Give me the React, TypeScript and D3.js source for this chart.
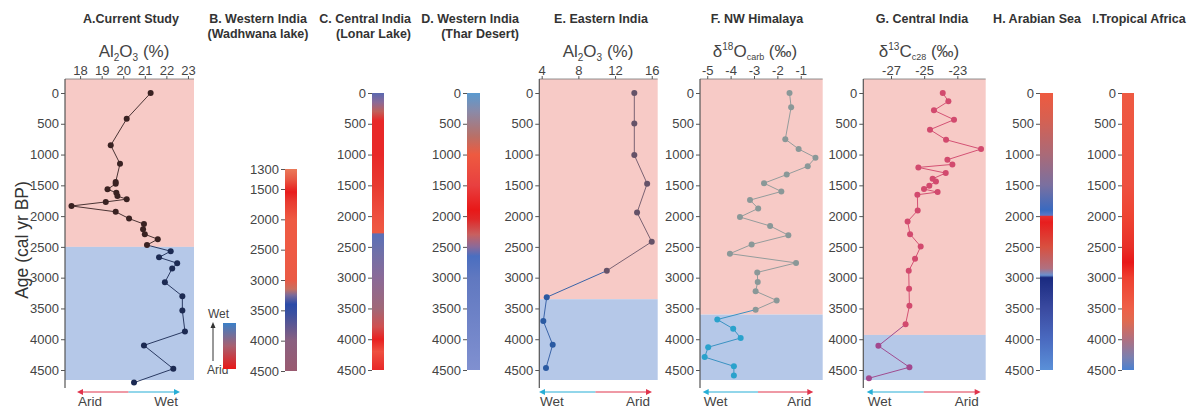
import React, { useEffect, useRef } from "react";
import * as d3 from "d3";

const FONT = "'Liberation Sans', Arial, Helvetica, sans-serif";
const DRY_BG = "#f7cac6";
const WET_BG = "#b5c8e8";
const RED = "#e0344c";
const CYAN = "#27aed6";

const ageTicks = [0, 500, 1000, 1500, 2000, 2500, 3000, 3500, 4000, 4500];
const bTicks = [1300, 1500, 2000, 2500, 3000, 3500, 4000, 4500];

// A. Current study, Al2O3 (%)
const aAges = [0, 420, 850, 1150, 1445, 1475, 1565, 1620, 1675, 1725, 1770, 1835, 1930, 2040, 2130, 2215, 2295, 2375, 2470, 2570, 2670, 2765, 2850, 3075, 3300, 3535, 3875, 4100, 4480, 4705];
const aAl2O3 = [21.27, 20.16, 19.42, 19.85, 19.65, 19.65, 19.27, 19.68, 19.73, 20.16, 19.19, 17.6, 19.65, 20.27, 20.96, 20.92, 21.0, 21.6, 21.1, 22.2, 21.66, 22.5, 22.27, 21.93, 22.74, 22.74, 22.86, 20.96, 22.32, 20.5];
const aTicks = [18, 19, 20, 21, 22, 23];

// E. Eastern India, Al2O3 (%)
const eAges = [0, 496, 1009, 1473, 1942, 2417, 2887, 3318, 3706, 4090, 4468];
const eAl2O3 = [14.1, 14.1, 14.1, 15.5, 14.4, 16.0, 11.1, 4.55, 4.18, 5.2, 4.47];
const eTicks = [4, 8, 12, 16];

// F. NW Himalaya, d18O carb
const fAges = [0, 230, 750, 910, 1050, 1190, 1325, 1465, 1600, 1740, 1875, 2015, 2160, 2310, 2460, 2610, 2760, 2915, 3070, 3220, 3370, 3520, 3680, 3830, 3980, 4130, 4290, 4440, 4590];
const fD18O = [-1.48, -1.41, -1.66, -1.09, -0.37, -0.7, -1.6, -2.57, -1.83, -3.17, -2.82, -3.6, -2.31, -1.53, -3.1, -4.03, -1.2, -2.86, -2.84, -2.93, -2.03, -2.93, -4.57, -3.89, -3.57, -4.96, -5.11, -3.86, -3.86];
const fTicks = [-5, -4, -3, -2, -1];

// G. Central India, d13C c28
const gAges = [0, 135, 282, 434, 596, 759, 911, 1084, 1160, 1209, 1301, 1393, 1436, 1507, 1561, 1610, 1653, 1908, 2087, 2293, 2493, 2694, 2889, 3182, 3458, 3756, 4108, 4455, 4634];
const gD13C = [-23.88, -23.54, -24.41, -23.2, -24.65, -23.68, -21.57, -23.6, -23.3, -25.35, -23.7, -24.49, -24.29, -24.69, -25.01, -24.19, -25.41, -25.39, -26.0, -25.85, -25.21, -25.55, -25.93, -25.91, -25.89, -26.12, -27.76, -25.89, -28.33];
const gTicks = [-27, -25, -23];

// colour bars (age -> colour stops)
const bAges = [1300, 1400, 1550, 1700, 2000, 2500, 3000, 3150, 3250, 3400, 3550, 4000, 4500];
const bColors = ["#ea7a5a", "#e85a45", "#e81c1c", "#e83a30", "#ee5a42", "#ee5a44", "#ea5a45", "#c87060", "#7a6a9a", "#2a4aa8", "#3a50a0", "#8a6080", "#9a5a70"];
const cAges = [0, 150, 300, 450, 1000, 1500, 2000, 2270, 2290, 2600, 3000, 3500, 3800, 4000, 4200, 4500];
const cColors = ["#5a68b0", "#8a6a98", "#c0605a", "#e82828", "#e82828", "#e83a30", "#ee5040", "#ee5a42", "#5a70b8", "#7070a8", "#8a6a98", "#a06878", "#d05050", "#e82020", "#ee5040", "#e82828"];
const dAges = [0, 300, 700, 1000, 1500, 1900, 2050, 2300, 2500, 2650, 3000, 4500];
const dColors = ["#5a9ad0", "#8a8aa8", "#b87068", "#ee5a40", "#e84040", "#e81818", "#e02828", "#c86060", "#8a6a9a", "#4a6ec0", "#6078c0", "#8090d0"];
const hAges = [0, 400, 1000, 1500, 1900, 1985, 2005, 2100, 2500, 2850, 2960, 3000, 3500, 4000, 4500];
const hColors = ["#ee5a40", "#d86050", "#aa6a78", "#7a70a0", "#3a6ac0", "#5a78c8", "#e83030", "#e81e1e", "#d85040", "#b07080", "#6a90d0", "#1a2a80", "#3a4aa0", "#4a6ac0", "#5a90d8"];
const iAges = [0, 1500, 2000, 2500, 2750, 3000, 3500, 3700, 4000, 4300, 4500];
const iColors = ["#ee5a42", "#ee5040", "#ee4432", "#e83028", "#e81818", "#ee4030", "#ee6048", "#e06a50", "#b07080", "#7a80b0", "#4a80d0"];
const legendColors = ["#3a80c8", "#a86070", "#e81818"];

const yAge = d3.scaleLinear().domain([0, 4500]).range([93, 370]);
const yB = d3.scaleLinear().domain([1300, 1500, 4500]).range([169, 189, 371]);
const PLOT_TOP = 79;
const PLOT_BOTTOM = 380;
const AXIS_BOTTOM = 388;

function Axis({ axis, transform }: { axis: any; transform?: string }) {
  const ref = useRef<SVGGElement>(null);
  useEffect(() => {
    const g = d3.select(ref.current!);
    g.selectAll("*").remove();
    g.call(axis);
    g.attr("font-family", FONT).attr("font-size", 13);
    g.select(".domain").remove();
    g.selectAll("text").attr("fill", "#444");
    g.selectAll("line").attr("stroke", "#555");
  });
  return <g ref={ref} transform={transform} />;
}

function Arrow({ x1, x2, left, y = 392 }: { x1: number; x2: number; left: "arid" | "wet"; y?: number }) {
  const xm = (x1 + x2) / 2;
  const cl = left === "arid" ? RED : CYAN;
  const cr = left === "arid" ? CYAN : RED;
  return (
    <g fontFamily={FONT} fontSize={13.5} fill="#444">
      <line x1={x1 + 2} x2={xm} y1={y} y2={y} stroke={cl} strokeWidth={1.2} />
      <line x1={xm} x2={x2 - 2} y1={y} y2={y} stroke={cr} strokeWidth={1.2} />
      <path d={`M${x1},${y} L${x1 + 6},${y - 3} L${x1 + 6},${y + 3} Z`} fill={cl} />
      <path d={`M${x2},${y} L${x2 - 6},${y - 3} L${x2 - 6},${y + 3} Z`} fill={cr} />
      <text x={x1 + 1} y={406}>{left === "arid" ? "Arid" : "Wet"}</text>
      <text x={x2 - 2} y={406} textAnchor="end">{left === "arid" ? "Wet" : "Arid"}</text>
    </g>
  );
}

type LineProps = {
  title: string;
  titleX: number;
  axisTitle: React.ReactNode;
  axisTitleX: number;
  xDomain: [number, number];
  xRange: [number, number];
  ticks: number[];
  boundary: number;
  split: number;
  ages: number[];
  values: number[];
  dry: [string, string];
  wet: [string, string];
  left: "arid" | "wet";
  arrow: [number, number];
};

function LinePanel(p: LineProps) {
  const x = d3.scaleLinear().domain(p.xDomain).range(p.xRange);
  const [x0, x1] = p.xRange;
  const yb = yAge(p.boundary);
  const pts = p.ages.map((a, i) => ({ a, v: p.values[i] }));
  const seg = d3.line<{ a: number; v: number }>().x((d) => x(d.v)).y((d) => yAge(d.a));
  return (
    <g>
      <text x={p.titleX} y={23} textAnchor="middle" fontFamily={FONT} fontWeight="bold" fontSize={12.5} fill="#333">{p.title}</text>
      <text x={p.axisTitleX} y={57} textAnchor="middle" fontFamily={FONT} fontSize={17} fill="#444">{p.axisTitle}</text>
      <rect x={x0} y={PLOT_TOP} width={x1 - x0} height={yb - PLOT_TOP} fill={DRY_BG} />
      <rect x={x0} y={yb} width={x1 - x0} height={PLOT_BOTTOM - yb} fill={WET_BG} />
      <line x1={x0} x2={x1} y1={PLOT_TOP} y2={PLOT_TOP} stroke="#777" strokeWidth={0.8} />
      <line x1={x0} x2={x0} y1={PLOT_TOP} y2={AXIS_BOTTOM} stroke="#555" strokeWidth={1.2} />
      <Axis axis={d3.axisTop(x).tickValues(p.ticks).tickSize(3).tickPadding(1).tickFormat((d: any) => String(d))} transform={`translate(0,${PLOT_TOP})`} />
      <Axis axis={d3.axisLeft(yAge).tickValues(ageTicks).tickSize(4).tickPadding(2).tickFormat((d: any) => String(d))} transform={`translate(${x0},0)`} />
      {pts.slice(1).map((d, i) => {
        const wet = d.a >= p.split;
        return <path key={i} d={seg([pts[i], d]) || ""} stroke={wet ? p.wet[1] : p.dry[1]} strokeWidth={1} fill="none" />;
      })}
      {pts.map((d, i) => (
        <circle key={i} cx={x(d.v)} cy={yAge(d.a)} r={3} fill={d.a >= p.split ? p.wet[0] : p.dry[0]} />
      ))}
      <Arrow x1={p.arrow[0]} x2={p.arrow[1]} left={p.left} />
    </g>
  );
}

type BarProps = {
  id: string;
  x: number;
  width: number;
  scale: any;
  ticks: number[];
  ages: number[];
  colors: string[];
  title: string[];
  titleX: number;
  anchor: "middle" | "end";
};

function BarPanel(p: BarProps) {
  const [a0, a1] = [p.ages[0], p.ages[p.ages.length - 1]];
  const top = p.scale(a0);
  const bottom = p.scale(a1);
  return (
    <g>
      {p.title.map((t, i) => (
        <text key={i} x={p.titleX} y={23 + i * 15} textAnchor={p.anchor} fontFamily={FONT} fontWeight="bold" fontSize={12.5} fill="#333">{t}</text>
      ))}
      <defs>
        <linearGradient id={p.id} gradientUnits="userSpaceOnUse" x1={0} x2={0} y1={top} y2={bottom}>
          {p.ages.map((a, i) => (
            <stop key={i} offset={(p.scale(a) - top) / (bottom - top)} stopColor={p.colors[i]} />
          ))}
        </linearGradient>
      </defs>
      <rect x={p.x} y={top} width={p.width} height={bottom - top} fill={`url(#${p.id})`} />
      <Axis axis={d3.axisLeft(p.scale).tickValues(p.ticks).tickSize(4).tickPadding(2).tickFormat((d: any) => String(d))} transform={`translate(${p.x},0)`} />
    </g>
  );
}

export default function App() {
  const legY = d3.scaleLinear().domain([0, 2]).range([323, 369]);
  return (
    <svg width={1198} height={409} style={{ position: "absolute", left: 0, top: 0, background: "#fff" }}>
      <text transform="translate(28,240) rotate(-90)" textAnchor="middle" fontFamily={FONT} fontSize={17.5} fill="#333">Age (cal yr BP)</text>

      <LinePanel
        title="A.Current Study" titleX={131}
        axisTitle={<>Al<tspan fontSize={10} dy={4}>2</tspan><tspan dy={-4}>O</tspan><tspan fontSize={10} dy={4}>3</tspan><tspan dy={-4}> (%)</tspan></>}
        axisTitleX={134}
        xDomain={[17.3, 23.28]} xRange={[65, 194]} ticks={aTicks}
        boundary={2500} split={2500} ages={aAges} values={aAl2O3}
        dry={["#3a2222", "#4a3434"]} wet={["#1c2a52", "#2a3a62"]}
        left="arid" arrow={[77, 180]}
      />

      <BarPanel id="gB" x={285} width={12} scale={yB} ticks={bTicks} ages={bAges} colors={bColors}
        title={["B. Western India", "(Wadhwana lake)"]} titleX={258} anchor="middle" />
      <g fontFamily={FONT} fontSize={12} fill="#444">
        <text x={208} y={318}>Wet</text>
        <text x={207} y={374}>Arid</text>
        <line x1={213} x2={213} y1={361} y2={327} stroke="#333" strokeWidth={1} />
        <path d="M213,322 L210.5,328 L215.5,328 Z" fill="#333" />
        <defs>
          <linearGradient id="gLeg" x1="0" x2="0" y1="0" y2="1">
            {legendColors.map((c, i) => <stop key={i} offset={(legY(i) - 323) / 46} stopColor={c} />)}
          </linearGradient>
        </defs>
        <rect x={223} y={323} width={13} height={46} fill="url(#gLeg)" />
      </g>

      <BarPanel id="gC" x={372} width={12} scale={yAge} ticks={ageTicks} ages={cAges} colors={cColors}
        title={["C. Central India", "(Lonar Lake)"]} titleX={411} anchor="end" />
      <BarPanel id="gD" x={467} width={13} scale={yAge} ticks={ageTicks} ages={dAges} colors={dColors}
        title={["D. Western India", "(Thar Desert)"]} titleX={519} anchor="end" />

      <LinePanel
        title="E. Eastern India" titleX={601}
        axisTitle={<>Al<tspan fontSize={10} dy={4}>2</tspan><tspan dy={-4}>O</tspan><tspan fontSize={10} dy={4}>3</tspan><tspan dy={-4}> (%)</tspan></>}
        axisTitleX={598}
        xDomain={[3.74, 16.65]} xRange={[539.3, 657.7]} ticks={eTicks}
        boundary={3350} split={3300} ages={eAges} values={eAl2O3}
        dry={["#655268", "#7a6272"]} wet={["#2a5aa2", "#3a64a8"]}
        left="wet" arrow={[539, 652]}
      />

      <LinePanel
        title="F. NW Himalaya" titleX={757}
        axisTitle={<>δ<tspan fontSize={10} dy={-7}>18</tspan><tspan dy={7}>O</tspan><tspan fontSize={9} dy={3}>carb</tspan><tspan dy={-3}> (‰)</tspan></>}
        axisTitleX={755}
        xDomain={[-5.31, -0.06]} xRange={[700, 822.7]} ticks={fTicks}
        boundary={3600} split={3600} ages={fAges} values={fD18O}
        dry={["#8a9898", "#949c9c"]} wet={["#2aa2cc", "#3a92c2"]}
        left="wet" arrow={[702.7, 813.3]}
      />

      <LinePanel
        title="G. Central India" titleX={922}
        axisTitle={<>δ<tspan fontSize={10} dy={-7}>13</tspan><tspan dy={7}>C</tspan><tspan fontSize={9} dy={3}>c28</tspan><tspan dy={-3}> (‰)</tspan></>}
        axisTitleX={919}
        xDomain={[-28.67, -21.29]} xRange={[863.3, 985.7]} ticks={gTicks}
        boundary={3930} split={3930} ages={gAges} values={gD13C}
        dry={["#d24a6e", "#d45274"]} wet={["#a2488e", "#a04c90"]}
        left="wet" arrow={[866.7, 980.7]}
      />

      <BarPanel id="gH" x={1040} width={13} scale={yAge} ticks={ageTicks} ages={hAges} colors={hColors}
        title={["H. Arabian Sea"]} titleX={1037} anchor="middle" />
      <BarPanel id="gI" x={1122} width={12} scale={yAge} ticks={ageTicks} ages={iAges} colors={iColors}
        title={["I.Tropical Africa"]} titleX={1139} anchor="middle" />
    </svg>
  );
}
